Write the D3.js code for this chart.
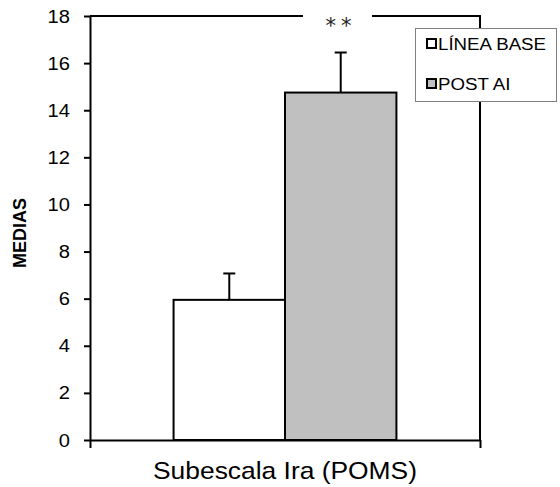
<!DOCTYPE html>
<html>
<head>
<meta charset="utf-8">
<title>Subescala Ira (POMS)</title>
<script src="https://d3js.org/d3.v7.min.js"></script>
<style>
  html, body { margin: 0; padding: 0; background: #fff; overflow: hidden; }
  svg { display: block; font-family: "Liberation Sans", Arial, sans-serif; }
  .axis text { font-size: 19px; fill: #000; }
  .axis line, .axis path { stroke: #000; stroke-width: 2px; }
</style>
</head>
<body>
<svg id="chart" width="560" height="487"></svg>
<script>
// data
const categories = ['Subescala Ira (POMS)'];
const series = ['LÍNEA BASE', 'POST AI'];
const means = [5.95, 14.75];
const errors = [1.12, 1.7];
const yTicks = [0, 2, 4, 6, 8, 10, 12, 14, 16, 18];
const fills = ['#ffffff', '#c0c0c0'];

const svg = d3.select('#chart');
const plotLeft = 90, plotRight = 480, plotTop = 16, plotBottom = 440;
const stretch = 1.1; // text in the source is a bit wide

const y = d3.scaleLinear().domain([0, 18]).range([plotBottom, plotTop]);
const x = d3.scaleBand().domain(categories).range([plotLeft, plotRight]);
const xs = d3.scaleBand().domain(series).range([0, x.bandwidth()])
    .paddingInner(0).paddingOuter(0.75);

// frame: top and right border
svg.append('path')
    .attr('d', `M${plotLeft},${plotTop}H${plotRight}V${plotBottom}`)
    .attr('fill', 'none').attr('stroke', '#000').attr('stroke-width', 2);

// bars
const bars = series.map((s, i) => ({ cat: categories[0], s, v: means[i], e: errors[i], fill: fills[i] }));
const g = svg.append('g');
g.selectAll('rect.bar')
    .data(bars)
    .join('rect')
    .attr('class', 'bar')
    .attr('x', d => x(d.cat) + xs(d.s))
    .attr('y', d => y(d.v))
    .attr('width', xs.bandwidth())
    .attr('height', d => y(0) - y(d.v))
    .attr('fill', d => d.fill)
    .attr('stroke', '#000')
    .attr('stroke-width', 2);

// error bars (upper only)
const eb = g.selectAll('g.err').data(bars).join('g').attr('class', 'err')
    .attr('transform', d => `translate(${x(d.cat) + xs(d.s) + xs.bandwidth() / 2},0)`);
eb.append('line')
    .attr('y1', d => y(d.v)).attr('y2', d => y(d.v + d.e))
    .attr('stroke', '#000').attr('stroke-width', 2);
eb.append('line')
    .attr('x1', -6).attr('x2', 6)
    .attr('y1', d => y(d.v + d.e)).attr('y2', d => y(d.v + d.e))
    .attr('stroke', '#000').attr('stroke-width', 2);

// y axis
const yAxisG = svg.append('g')
    .attr('class', 'axis')
    .attr('transform', `translate(${plotLeft},0)`)
    .call(d3.axisLeft(y).tickValues(yTicks).tickSize(6).tickSizeOuter(0).tickPadding(14));
yAxisG.selectAll('.tick text').each(function() {
    const t = d3.select(this);
    const tx = +t.attr('x');
    t.attr('x', 0).attr('transform', `translate(${tx},0) scale(1.06,1)`);
});

// x axis
svg.append('g')
    .attr('class', 'axis')
    .attr('transform', `translate(0,${plotBottom})`)
    .call(d3.axisBottom(d3.scaleLinear().domain([0, 1]).range([plotLeft, plotRight]))
        .tickValues([0, 1]).tickSize(8).tickSizeOuter(0).tickFormat(''));

svg.append('text')
    .attr('transform', `translate(${(plotLeft + plotRight) / 2},479) scale(${stretch},1)`)
    .attr('text-anchor', 'middle')
    .attr('font-size', 24)
    .text(categories[0]);

svg.append('text')
    .attr('transform', `translate(26,233) rotate(-90)`)
    .attr('text-anchor', 'middle')
    .attr('font-size', 18)
    .attr('font-weight', 'bold')
    .text('MEDIAS');

// significance mark
svg.append('rect')
    .attr('x', 303).attr('y', 0).attr('width', 69).attr('height', 32)
    .attr('fill', '#fff');
svg.append('text')
    .attr('x', 341).attr('y', 33)
    .attr('text-anchor', 'middle')
    .attr('font-size', 21)
    .attr('font-family', '"DejaVu Sans", sans-serif')
    .attr('letter-spacing', 5)
    .attr('fill', '#222')
    .text('**');

// legend
const leg = svg.append('g').attr('transform', 'translate(415,28)');
leg.append('rect')
    .attr('x', 0.5).attr('y', 0.5).attr('width', 141).attr('height', 73)
    .attr('fill', '#fff').attr('stroke', '#808080').attr('stroke-width', 1);
const li = leg.selectAll('g.item').data(series).join('g').attr('class', 'item')
    .attr('transform', (d, i) => `translate(0,${22 + i * 40})`);
li.append('rect')
    .attr('x', 12).attr('y', -11).attr('width', 9).attr('height', 9)
    .attr('fill', (d, i) => fills[i]).attr('stroke', '#000').attr('stroke-width', 2);
li.append('text')
    .attr('transform', `translate(23,0) scale(${stretch},1)`)
    .attr('font-size', 17)
    .text(d => d);
</script>
</body>
</html>
